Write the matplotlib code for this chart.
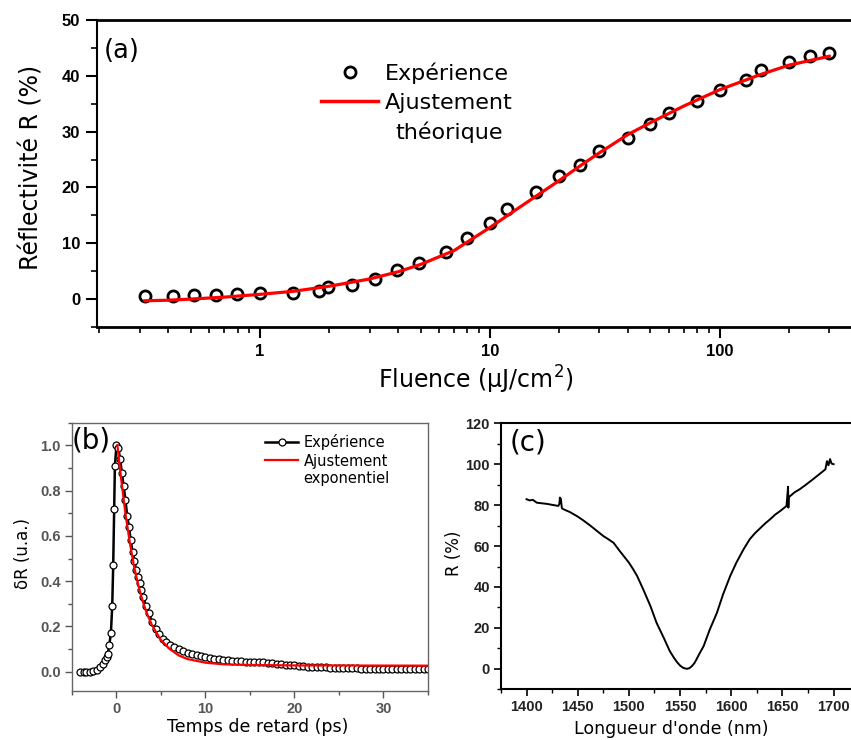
import matplotlib.pyplot as plt
from matplotlib.lines import Line2D
from matplotlib.ticker import MultipleLocator, LogLocator, NullFormatter, FixedLocator, FixedFormatter

plt.rcParams['font.family'] = ['DejaVu Sans']

# (a) réflectivité vs fluence
fluence = [0.316, 0.417, 0.515, 0.647, 0.795, 1.0, 1.40, 1.81, 1.97, 2.51, 3.17, 3.95,
           4.94, 6.48, 7.95, 10.0, 11.9, 15.9, 20.0, 24.8, 30.0, 40.0, 50.0, 60.0,
           80.0, 100.0, 130.0, 151.0, 200.0, 248.0, 300.0]
refl = [0.6, 0.5, 0.7, 0.8, 0.95, 1.07, 1.07, 1.5, 2.1, 2.55, 3.56, 5.2,
        6.5, 8.5, 11.0, 13.6, 16.1, 19.1, 22.0, 24.1, 26.5, 28.9, 31.4, 33.4,
        35.5, 37.4, 39.3, 41.0, 42.4, 43.5, 44.0]
fit_fluence = [0.316, 0.4, 0.5, 0.7, 1.0, 1.4, 2.0, 3.0, 4.0, 5.0, 7.0, 10.0, 14.0,
               20.0, 25.0, 30.0, 40.0, 50.0, 70.0, 100.0, 150.0, 200.0, 300.0]
fit_refl = [-0.3, -0.2, 0.0, 0.35, 0.85, 1.4, 2.3, 3.6, 4.9, 6.2, 8.7, 12.8, 16.9,
            21.2, 24.0, 26.2, 29.5, 31.6, 34.6, 37.5, 40.2, 41.9, 43.5]

# (b) dynamique temporelle
delay = [-4.1, -3.7, -3.4, -3.0, -2.6, -2.2, -1.85, -1.5, -1.3, -1.1, -0.97, -0.8,
         -0.63, -0.48, -0.37, -0.26, -0.18, 0.0,
         0.2, 0.4, 0.6, 0.8, 1.0, 1.2, 1.4, 1.6, 1.8, 2.0, 2.2, 2.4, 2.6, 2.8, 3.0,
         3.3, 3.6, 4.0, 4.4, 4.8, 5.2, 5.6, 6.0, 6.5, 7.0, 7.5, 8.0, 8.5, 9.0, 9.5,
         10.0, 10.5, 11.0, 11.5, 12.0, 12.5, 13.0, 13.5, 14.0, 14.5, 15.0, 15.5, 16.0,
         16.5, 17.0, 17.5, 18.0, 18.5, 19.0, 19.5, 20.0, 20.5, 21.0, 21.5, 22.0, 22.5,
         23.0, 23.5, 24.0, 24.5, 25.0, 25.5, 26.0, 26.5, 27.0, 27.5, 28.0, 28.5, 29.0,
         29.5, 30.0, 30.5, 31.0, 31.5, 32.0, 32.5, 33.0, 33.5, 34.0, 34.5, 35.0]
dR = [0.0, 0.0, 0.0, 0.0, 0.005, 0.01, 0.02, 0.035, 0.05, 0.065, 0.08, 0.12,
      0.17, 0.29, 0.47, 0.72, 0.91, 1.0,
      0.99, 0.94, 0.88, 0.82, 0.76, 0.69, 0.64, 0.58, 0.53, 0.49, 0.45, 0.42, 0.39, 0.36, 0.33,
      0.29, 0.26, 0.22, 0.19, 0.165, 0.145, 0.13, 0.12, 0.11, 0.10, 0.09, 0.085, 0.08, 0.075, 0.07,
      0.065, 0.062, 0.058, 0.055, 0.053, 0.05, 0.049, 0.047, 0.046, 0.045, 0.044, 0.043, 0.042,
      0.041, 0.040, 0.038, 0.036, 0.034, 0.032, 0.030, 0.028, 0.026, 0.025, 0.023, 0.022, 0.021,
      0.020, 0.019, 0.018, 0.018, 0.017, 0.016, 0.016, 0.015, 0.015, 0.014, 0.014, 0.013, 0.013,
      0.013, 0.012, 0.012, 0.012, 0.012, 0.012, 0.011, 0.011, 0.011, 0.011, 0.011, 0.011]
fit_delay = [0.1, 0.5, 1.0, 1.5, 2.0, 2.5, 3.0, 3.5, 4.0, 5.0, 6.0, 7.0, 8.0, 10.0,
             12.0, 15.0, 20.0, 35.0]
fit_dR = [1.0, 0.86, 0.70, 0.57, 0.46, 0.375, 0.305, 0.25, 0.205, 0.14, 0.10, 0.072,
          0.056, 0.04, 0.033, 0.03, 0.028, 0.027]

# (c) spectre de réflectivité
wavelength = [1400, 1403, 1406, 1410, 1420, 1431, 1432, 1432.6, 1433.5, 1434.5, 1436, 1442,
              1449, 1455, 1462, 1469, 1475, 1480, 1485, 1491, 1500, 1504, 1508, 1514,
              1521, 1527, 1534, 1540, 1544, 1547, 1550, 1553, 1556.5, 1559, 1561.5, 1564,
              1566, 1569, 1573, 1579, 1586, 1592, 1599, 1605, 1612, 1618, 1623, 1628,
              1633, 1638, 1643, 1648, 1654, 1655.5, 1655.8, 1656.2, 1657.7, 1662, 1667,
              1673, 1680, 1685, 1690, 1692, 1693.5, 1695, 1696.5, 1698, 1700]
R_spec = [82.9, 82.3, 82.6, 81.2, 80.6, 79.6, 80.5, 83.7, 83, 78.5, 78, 76.7,
          74.7, 72.7, 70.1, 67.3, 64.9, 63.3, 61.6, 57.6, 51.9, 48.8, 45.4, 38.8,
          30.7, 22.5, 15.2, 8.6, 5.4, 3.3, 1.6, 0.5, 0, 0.3, 1.3, 2.8,
          4.6, 7.5, 11.1, 19.2, 27.4, 36.4, 45.4, 51.9, 58.4, 63.3, 66.2, 68.6,
          71.0, 73.1, 75.4, 77.2, 79.6, 89, 78.8, 84, 84.5, 86.3, 87.8,
          90.0, 92.7, 94.7, 96.7, 97.5, 101.5, 99.5, 102.5, 100.3, 100.0]

tick_font = {'family': 'Liberation Sans', 'weight': 'bold'}

fig = plt.figure(figsize=(8.51, 7.4), dpi=100)

# ---------- (a) ----------
ax1 = fig.add_axes([0.1136, 0.5581, 0.8864, 0.4149])
ax1.plot(fluence, refl, 'o', ms=8, mfc='none', mec='black', mew=2, zorder=2)
ax1.plot(fit_fluence, fit_refl, '-', color='#ff0000', lw=2.3, zorder=3)
ax1.set_xscale('log')
ax1.set_xlim(0.195, 373)
ax1.set_ylim(-5, 50)
ax1.xaxis.set_major_locator(FixedLocator([1, 10, 100]))
ax1.xaxis.set_major_formatter(FixedFormatter(['1', '10', '100']))
ax1.xaxis.set_minor_locator(LogLocator(base=10, subs=range(2, 10)))
ax1.xaxis.set_minor_formatter(NullFormatter())
ax1.yaxis.set_major_locator(MultipleLocator(10))
ax1.yaxis.set_minor_locator(MultipleLocator(5))
ax1.tick_params(which='major', direction='out', length=8, width=1.5, pad=4)
ax1.tick_params(which='minor', direction='out', length=4, width=1.2)
for lab in ax1.get_xticklabels() + ax1.get_yticklabels():
    lab.set_fontproperties(tick_font)
    lab.set_fontsize(12)
ax1.spines['right'].set_visible(False)
for s in ['top', 'bottom']:
    ax1.spines[s].set_linewidth(2)
ax1.spines['left'].set_linewidth(1.5)
ax1.set_xlabel('Fluence (µJ/cm$^2$)', fontsize=17)
ax1.xaxis.set_label_coords(0.503, -0.12)
ax1.set_ylabel('Réflectivité R (%)', fontsize=17)
ax1.yaxis.set_label_coords(-0.07, 0.521)
ax1.text(0.0097, 0.899, '(a)', transform=ax1.transAxes, fontsize=18.5, va='center')

h_exp = Line2D([], [], ls='none', marker='o', ms=8, mfc='none', mec='black', mew=2)
h_fit = Line2D([], [], color='#ff0000', lw=2.5)
leg1 = ax1.legend([h_exp, h_fit], ['Expérience', 'Ajustement'],
                  loc='upper left', bbox_to_anchor=(0.297, 0.862), frameon=False,
                  fontsize=16, handlelength=2.6, handletextpad=0.3, borderpad=0,
                  borderaxespad=0, labelspacing=0.4)
ax1.annotate('théorique', xy=(0.5, 0), xycoords=leg1.get_texts()[1],
             xytext=(0, -6), textcoords='offset points', ha='center', va='top',
             fontsize=16, zorder=10)

# ---------- (b) ----------
ax2 = fig.add_axes([0.0846, 0.0662, 0.4183, 0.3626])
ax2.plot(delay, dR, '-o', color='black', lw=1.8, ms=5, mfc='white', mec='black', mew=0.9, zorder=2)
ax2.plot(fit_delay, fit_dR, '-', color='#ff0000', lw=1.6, zorder=3)
ax2.set_xlim(-5, 35)
ax2.set_ylim(-0.085, 1.10)
ax2.xaxis.set_major_locator(MultipleLocator(10))
ax2.xaxis.set_minor_locator(MultipleLocator(5))
ax2.yaxis.set_major_locator(MultipleLocator(0.2))
ax2.yaxis.set_minor_locator(MultipleLocator(0.1))
ax2.yaxis.set_major_formatter(plt.FuncFormatter(lambda v, p: f'{v:.1f}'))
ax2.tick_params(which='major', direction='out', length=5, width=1, color='#555555', pad=3)
ax2.tick_params(which='minor', direction='out', length=3, width=1, color='#555555')
for lab in ax2.get_xticklabels() + ax2.get_yticklabels():
    lab.set_fontproperties(tick_font)
    lab.set_fontsize(10.5)
    lab.set_color('#555555')
for s in ax2.spines.values():
    s.set_color('#666666')
    s.set_linewidth(1)
ax2.set_xlabel('Temps de retard (ps)', fontsize=12.5)
ax2.xaxis.set_label_coords(0.522, -0.10)
ax2.set_ylabel('δR (u.a.)', fontsize=12)
ax2.yaxis.set_label_coords(-0.112, 0.514)
ax2.text(0.0, 0.935, '(b)', transform=ax2.transAxes, fontsize=20, va='center')
h_exp2 = Line2D([], [], color='black', lw=1.8, marker='o', ms=5, mfc='white', mec='black', mew=0.9)
h_fit2 = Line2D([], [], color='#ff0000', lw=1.6)
leg2 = ax2.legend([h_exp2, h_fit2], ['Expérience', 'Ajustement'],
                  loc='upper left', bbox_to_anchor=(0.542, 0.958), frameon=False,
                  fontsize=10.5, handlelength=2.3, handletextpad=0.35, borderpad=0,
                  borderaxespad=0, labelspacing=0.25)
ax2.annotate('exponentiel', xy=(0, 0), xycoords=leg2.get_texts()[1],
             xytext=(0, -2), textcoords='offset points', ha='left', va='top',
             fontsize=10.5, zorder=10)

# ---------- (c) ----------
ax3 = fig.add_axes([0.5887, 0.0685, 0.4113, 0.3595])
ax3.plot(wavelength, R_spec, '-', color='black', lw=1.4)
ax3.set_xlim(1375, 1717)
ax3.set_ylim(-10, 120)
ax3.xaxis.set_major_locator(MultipleLocator(50))
ax3.xaxis.set_minor_locator(MultipleLocator(25))
ax3.yaxis.set_major_locator(MultipleLocator(20))
ax3.yaxis.set_minor_locator(MultipleLocator(10))
ax3.tick_params(which='major', direction='out', length=5, width=1.2, pad=3)
ax3.tick_params(which='minor', direction='out', length=3, width=1)
for lab in ax3.get_xticklabels() + ax3.get_yticklabels():
    lab.set_fontproperties(tick_font)
    lab.set_fontsize(10.5)
    lab.set_color('#222222')
ax3.spines['right'].set_visible(False)
for s in ['top', 'bottom', 'left']:
    ax3.spines[s].set_linewidth(1.5)
ax3.set_xlabel("Longueur d'onde (nm)", fontsize=12.5)
ax3.xaxis.set_label_coords(0.486, -0.115)
ax3.set_ylabel('R (%)', fontsize=12)
ax3.yaxis.set_label_coords(-0.109, 0.512)
ax3.text(0.026, 0.926, '(c)', transform=ax3.transAxes, fontsize=20, va='center')

fig.canvas.draw()
fig.savefig('out.png', dpi=100)
